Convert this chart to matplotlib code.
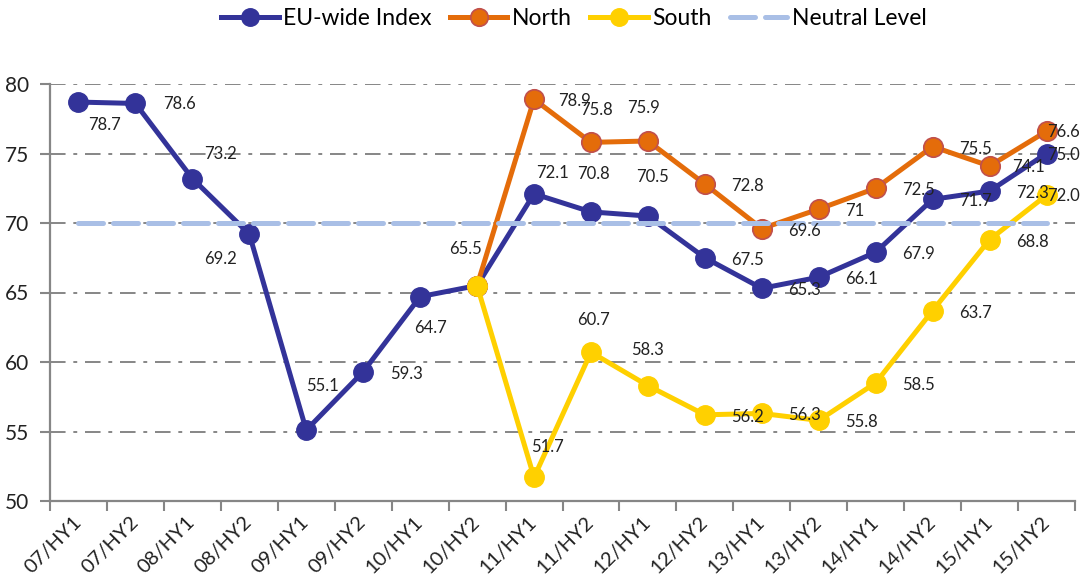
import matplotlib.pyplot as plt
import numpy as np

# Data
periods = ['07/HY1', '07/HY2', '08/HY1', '08/HY2', '09/HY1', '09/HY2', '10/HY1', '10/HY2',
           '11/HY1', '11/HY2', '12/HY1', '12/HY2', '13/HY1', '13/HY2', '14/HY1', '14/HY2',
           '15/HY1', '15/HY2']
eu_index = [78.7, 78.6, 73.2, 69.2, 55.1, 59.3, 64.7, 65.5, 72.1, 70.8, 70.5, 67.5,
            65.3, 66.1, 67.9, 71.7, 72.3, 75.0]
north = [None] * 7 + [65.5, 78.9, 75.8, 75.9, 72.8, 69.6, 71, 72.5, 75.5, 74.1, 76.6]
south = [None] * 7 + [65.5, 51.7, 60.7, 58.3, 56.2, 56.3, 55.8, 58.5, 63.7, 68.8, 72.0]
neutral = [70] * len(periods)

eu_text = ['78.7', '78.6', '73.2', '69.2', '55.1', '59.3', '64.7', '65.5', '72.1', '70.8',
           '70.5', '67.5', '65.3', '66.1', '67.9', '71.7', '72.3', '75.0']
north_text = [None] * 8 + ['78.9', '75.8', '75.9', '72.8', '69.6', '71', '72.5', '75.5',
                           '74.1', '76.6']
south_text = [None] * 8 + ['51.7', '60.7', '58.3', '56.2', '56.3', '55.8', '58.5', '63.7',
                           '68.8', '72.0']

# label offsets in pixels (dx, dy downwards)
R = (43, 2)
eu_off = [(26, 23), (44, 1), (28, -25), (-29, 25), (16, -44), R, (10, 31), (-12, -37),
          (18, -21), (3, -38), (5, -39), R, R, R, R, R, R, (17, 2)]
north_off = [None] * 8 + [(40, 2), (6, -32), (-4, -33), R, R, (36, 2), R, R, (39, 1), (17, 1)]
south_off = [None] * 8 + [(13, -30), (3, -32), (0, -36), R, R, R, R, R, R, (17, 1)]

plt.rcParams['font.family'] = ['Lato', 'DejaVu Sans']

c_blue = '#333399'
c_orange = '#e46c0a'
c_yellow = '#ffd000'
c_neutral = '#a9bfe6'
c_grid = '#868686'

fig = plt.figure(figsize=(10.83, 5.80), dpi=100)
ax = fig.add_axes([50 / 1083, 1 - 501 / 580, 1025 / 1083, 417 / 580])

x = np.arange(len(periods))
north_arr = np.array([np.nan if v is None else v for v in north])
south_arr = np.array([np.nan if v is None else v for v in south])

ax.plot(x, eu_index, color=c_blue, lw=3.6, marker='o', ms=14, mfc=c_blue, mec=c_blue,
        label='EU-wide Index', zorder=3)
ax.plot(x, north_arr, color=c_orange, lw=3.6, marker='o', ms=14, mfc=c_orange,
        mec='#c0504d', mew=1.2, label='North', zorder=4)
ax.plot(x, south_arr, color=c_yellow, lw=3.6, marker='o', ms=14, mfc=c_yellow,
        mec=c_yellow, label='South', zorder=5)
ax.plot(x, neutral, color=c_neutral, lw=3.6, ls=(0, (5, 2)), dash_capstyle='round',
        label='Neutral Level', zorder=6)


def put_labels(vals, texts, offs):
    for i, (v, t, o) in enumerate(zip(vals, texts, offs)):
        if t is None:
            continue
        ax.annotate(t, (i, v), xytext=(o[0], -o[1]), textcoords='offset pixels',
                    ha='center', va='center', fontsize=12, color='#222222', zorder=7)


put_labels(eu_index, eu_text, eu_off)
put_labels(north, north_text, north_off)
put_labels(south, south_text, south_off)

ax.set_xlim(-0.5, len(periods) - 0.5)
ax.set_ylim(50, 80)
ax.set_yticks(range(50, 81, 5))
ax.set_xticks(x)
ax.set_xticklabels(periods, rotation=45, ha='right', va='center', rotation_mode='anchor',
                   fontsize=14.5, color='#222222')
ax.set_xticks(np.arange(-0.5, len(periods), 1), minor=True)
ax.tick_params(axis='x', which='major', length=0, pad=13)
ax.tick_params(axis='x', which='minor', length=7, width=1.5, color=c_grid)
ax.tick_params(axis='y', length=7, width=1.5, color=c_grid, labelsize=15,
               labelcolor='#222222', pad=8)

for yv in range(55, 81, 5):
    ax.axhline(yv, color=c_grid, lw=1.4, ls=(0, (8, 4, 2, 4)), zorder=1)

for s in ['top', 'right']:
    ax.spines[s].set_visible(False)
for s in ['left', 'bottom']:
    ax.spines[s].set_color(c_grid)
    ax.spines[s].set_linewidth(1.6)

fig.legend(loc='upper center', bbox_to_anchor=(0.53, 1.022), ncol=4, frameon=False,
           fontsize=16.5, handlelength=2.5, handletextpad=0.2, columnspacing=0.8,
           markerscale=0.9)

fig.savefig('out.png', dpi=100)
